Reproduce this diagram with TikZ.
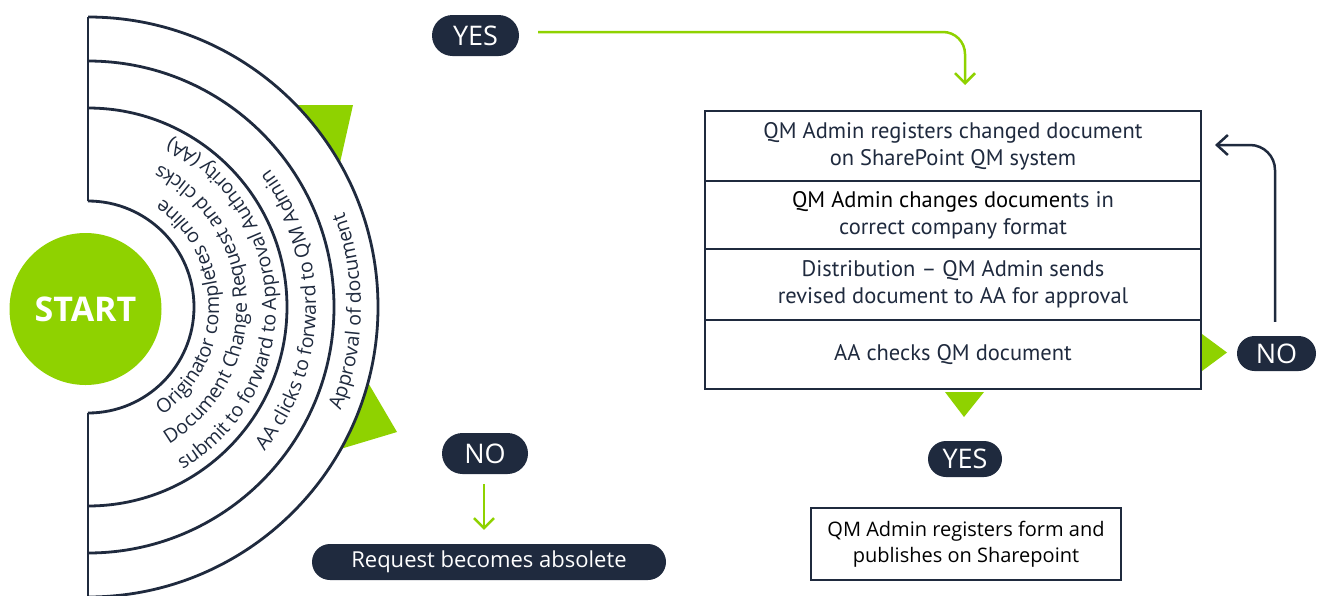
\documentclass[tikz,border=0pt]{standalone}
\usepackage{fontspec}
\setmainfont{Open Sans}
\newfontfamily\boxfont{PT Sans}
\usetikzlibrary{arrows.meta,decorations.text,calc}
\definecolor{qgreen}{RGB}{143,210,0}
\definecolor{qnavy}{RGB}{31,42,62}
\newcommand\arcfnt{\fontsize{19.5}{21}\selectfont}
\begin{document}
\begin{tikzpicture}[x=1pt,y=1pt,
  band/.style={draw=qnavy, line width=2.8pt},
  pill/.style={fill=qnavy, text=white, inner sep=0pt, font=\fontsize{27}{27}\selectfont},
  stepbox/.style={draw=qnavy, line width=2.8pt, minimum width=496pt, inner sep=0pt, outer sep=0pt,
    align=center, text=qnavy, font=\boxfont\fontsize{22.5}{27}\selectfont},
  gline/.style={draw=qgreen, line width=2.5pt, -{Straight Barb[length=10pt,width=20pt]}},
  nline/.style={draw=qnavy, line width=2.5pt, -{Straight Barb[length=11pt,width=20pt]}},
  arctext/.style={decorate, decoration={text along path, text align=center, text color=qnavy, text={|\arcfnt|#1}}},
]
\useasboundingbox (0,0) rectangle (1318,-595);
\coordinate (c) at (88,-307);

% green pointers behind the bands
\fill[qgreen] (280,-105) -- (353,-105) -- (335,-185) -- cycle;
\fill[qgreen] (353,-357) -- (397,-432) -- (327,-453) -- cycle;
\fill[white] ([shift={(90:290)}]c) arc[start angle=90,end angle=-90,radius=290] -- cycle;

% bands
\draw[band] ([shift={(90:290)}]c) arc[start angle=90,end angle=-90,radius=290];
\draw[band] ([shift={(90:246)}]c) arc[start angle=90,end angle=-90,radius=246];
\draw[band] ([shift={(90:199)}]c) arc[start angle=90,end angle=-90,radius=199];
\draw[band] ([shift={(90:106)}]c) arc[start angle=90,end angle=-90,radius=106];
\draw[band] ([shift={(90:290)}]c) -- ([shift={(90:106)}]c);
\draw[band] ([shift={(-90:106)}]c) -- ([shift={(-90:290)}]c);

% texts along the bands
\path[arctext={Originator completes online}] ([shift={(-80:131)}]c) arc[start angle=-80,end angle=80,radius=131];
\path[arctext={Document Change Request and clicks}] ([shift={(-78:159)}]c) arc[start angle=-78,end angle=82,radius=159];
\path[arctext={submit to forward to Approval Authority (AA)}] ([shift={(-78:188)}]c) arc[start angle=-78,end angle=82,radius=188];
\path[arctext={AA clicks to forward to QM Admin}] ([shift={(-81:228)}]c) arc[start angle=-81,end angle=79,radius=228];
\path[arctext={Approval of document}] ([shift={(-81:273)}]c) arc[start angle=-81,end angle=79,radius=273];

% start
\node[circle, fill=qgreen, minimum size=152pt, inner sep=0pt, text=white,
  font=\fontsize{34}{34}\bfseries\selectfont] (start) at (85.5,-309) {START};

% pills
\node[pill, minimum width=87pt, minimum height=41pt, rounded corners=20.5pt] (yes1) at (475.5,-35.5) {YES};
\node[pill, minimum width=86pt, minimum height=41pt, rounded corners=20.5pt] (no1) at (485,-453.5) {NO};
\node[pill, minimum width=354pt, minimum height=36pt, rounded corners=18pt,
  font=\fontsize{22}{22}\selectfont] (req) at (489,-562) {Request becomes absolete};
\node[pill, minimum width=79pt, minimum height=35pt, rounded corners=17.5pt] (no2) at (1276.5,-353.5) {NO};
\node[pill, minimum width=74pt, minimum height=36pt, rounded corners=18pt] (yes2) at (965,-459) {YES};

% step boxes
\node[stepbox, minimum height=70pt] (b1) at (953,-146) {QM Admin registers changed document\\on SharePoint QM system};
\node[stepbox, minimum height=68pt] (b2) at (953,-215) {{\color{black}QM Admin changes documen}ts in\\correct company format};
\node[stepbox, minimum height=71pt] (b3) at (953,-284.5) {Distribution – QM Admin sends\\revised document to AA for approval};
\node[stepbox, minimum height=69pt] (b4) at (953,-354.5) {AA checks QM document};
\node[draw=qnavy, line width=2.5pt, minimum width=310pt, minimum height=72pt, inner sep=0pt,
  align=center, text=black, font=\fontsize{20}{26}\selectfont] (fin) at (966,-544) {QM Admin registers form and\\publishes on Sharepoint};

% green pointers of the box
\fill[qgreen] (945,-392) -- (984,-392) -- (964,-417) -- cycle;
\fill[qgreen] (1202,-334) -- (1227,-352.5) -- (1202,-371) -- cycle;

% connectors
\coordinate (ys) at ($(yes1.east)+(19,3.5)$);
\coordinate (ye) at (965,-85);
\draw[gline, rounded corners=22pt] (ys) -| (ye);
\coordinate (ns) at ($(no1.south)+(-1,-10)$);
\coordinate (ne) at ($(req.north)+(-5,14)$);
\draw[gline] (ns) -- (ns |- ne);
\coordinate (rs) at ($(no2.north)+(-1.5,14)$);
\coordinate (re) at ($(b1.east)+(14,1)$);
\draw[nline, rounded corners=25pt] (rs) |- (re);
\end{tikzpicture}
\end{document}
